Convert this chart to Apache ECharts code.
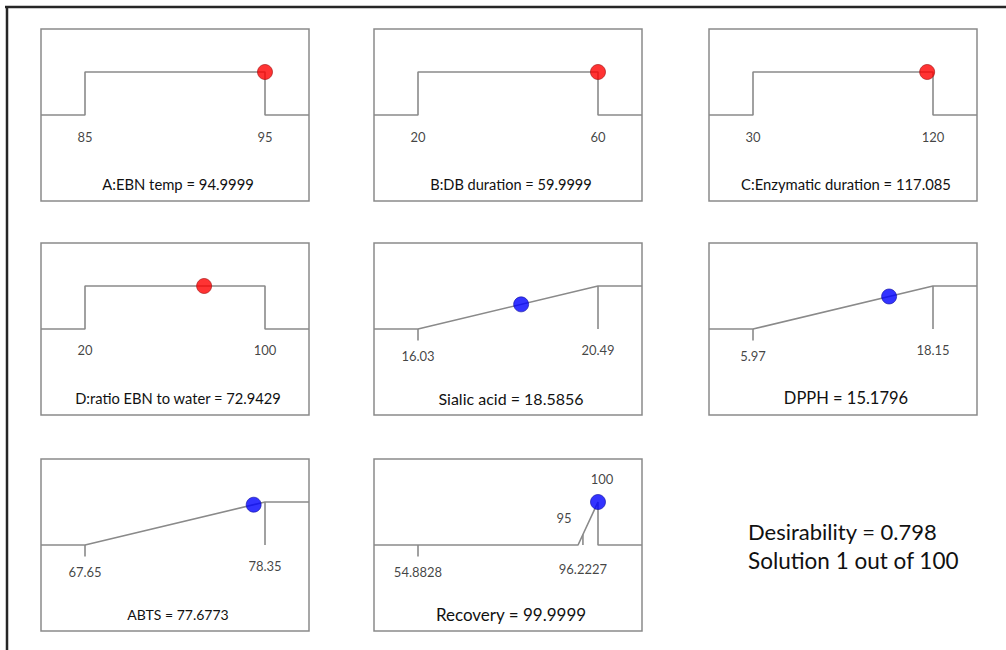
<!DOCTYPE html>
<html>
<head>
<meta charset="utf-8">
<script src="https://cdn.jsdelivr.net/npm/echarts@6/dist/echarts.min.js"></script>
<style>html,body{margin:0;padding:0;background:#fff;}#c{width:1006px;height:650px;}</style>
</head>
<body>
<div id="c"></div>
<script>
// ---- data ----
const panelNames = ['A:EBN temp', 'B:DB duration', 'C:Enzymatic duration', 'D:ratio EBN to water', 'Sialic acid', 'DPPH', 'ABTS', 'Recovery'];
const solutionValues = [94.9999, 59.9999, 117.085, 72.9429, 18.5856, 15.1796, 77.6773, 99.9999];
const solutionLabels = ['94.9999', '59.9999', '117.085', '72.9429', '18.5856', '15.1796', '77.6773', '99.9999'];
const goalTypes = ['in range', 'in range', 'in range', 'in range', 'maximize', 'maximize', 'maximize', 'target'];
const goalLow = [85, 20, 30, 20, 16.03, 5.97, 67.65, 95];
const goalHigh = [95, 60, 120, 100, 20.49, 18.15, 78.35, 100];
const rangeLow = [85, 20, 30, 20, 16.03, 5.97, 67.65, 54.8828];
const rangeHigh = [95, 60, 120, 100, 20.49, 18.15, 78.35, 96.2227];
const rangeLowLabels = ['85', '20', '30', '20', '16.03', '5.97', '67.65', '54.8828'];
const rangeHighLabels = ['95', '60', '120', '100', '20.49', '18.15', '78.35', '96.2227'];
const goalLowLabels = ['', '', '', '', '', '', '', '95'];
const goalHighLabels = ['', '', '', '', '', '', '', '100'];
const desirabilityText = 'Desirability = 0.798';
const solutionText = 'Solution 1 out of 100';

// ---- layout / style ----
const FONT = 'Lato';
const colLeft = [41, 374, 709];
const rowTop = [29, 243, 459];
const boxW = 268, boxH = 172;
const margin = 44 / 180;
const gray = '#8a8a8a';
const titleSizes = [14.8, 14.6, 14.8, 14.7, 16, 16.5, 14, 17];

function desir(i, v) {
  const lo = goalLow[i], hi = goalHigh[i];
  if (goalTypes[i] === 'in range') return (v >= lo && v <= hi) ? 1 : 0;
  if (goalTypes[i] === 'maximize') return Math.max(0, Math.min(1, (v - lo) / (hi - lo)));
  if (v < lo || v > hi) return 0;
  return (v - lo) / (hi - lo);
}

const grids = [], xAxes = [], yAxes = [], series = [], titles = [];
panelNames.forEach((name, i) => {
  const r = Math.floor(i / 3), c = i % 3;
  const left = colLeft[c], top = rowTop[r];
  grids.push({ left: left, top: top, width: boxW, height: boxH, show: true, borderColor: gray, borderWidth: 1.5, backgroundColor: '#fff' });
  const aLo = Math.min(rangeLow[i], goalLow[i]);
  const aHi = Math.max(rangeHigh[i], goalHigh[i]);
  const span = aHi - aLo;
  const xmin = aLo - margin * span, xmax = aHi + margin * span;
  xAxes.push({ gridIndex: i, type: 'value', min: xmin, max: xmax, show: false });
  yAxes.push({ gridIndex: i, type: 'value', min: -2, max: 2, show: false });
  const lineStyle = { color: gray, width: 1.6 };
  const base = { xAxisIndex: i, yAxisIndex: i, symbol: 'none', silent: true, animation: false, lineStyle: lineStyle, z: 2 };
  const lo = goalLow[i], hi = goalHigh[i];
  let pts;
  if (goalTypes[i] === 'in range') {
    pts = [[xmin, 0], [lo, 0], [lo, 1], [hi, 1], [hi, 0], [xmax, 0]];
  } else if (goalTypes[i] === 'maximize') {
    pts = [[xmin, 0], [lo, 0], [hi, 1], [xmax, 1]];
  } else {
    pts = [[xmin, 0], [lo, 0], [hi, 1], [hi, 0], [xmax, 0]];
  }
  series.push(Object.assign({ type: 'line', data: pts }, base));
  const lblStyle = { fontFamily: FONT, fontSize: 13, color: '#111' };
  const labels = [];
  if (goalTypes[i] !== 'in range') {
    series.push(Object.assign({ type: 'line', data: [[rangeLow[i], 0], [rangeLow[i], -0.27]] }, base));
    series.push(Object.assign({ type: 'line', data: [[rangeHigh[i], 0], [rangeHigh[i], desir(i, rangeHigh[i])]] }, base));
    labels.push({ value: [rangeLow[i], 0], name: rangeLowLabels[i], label: { offset: [0, 27] } });
    labels.push({ value: [rangeHigh[i], 0], name: rangeHighLabels[i], label: { offset: [0, goalTypes[i] === 'target' ? 24 : 21] } });
    if (goalLowLabels[i]) labels.push({ value: [goalLow[i], 0], name: goalLowLabels[i], label: { offset: [-14, -27] } });
    if (goalHighLabels[i]) labels.push({ value: [goalHigh[i], 1], name: goalHighLabels[i], label: { offset: [4, -23] } });
  } else {
    const off = r === 0 ? 22 : 21;
    labels.push({ value: [rangeLow[i], 0], name: rangeLowLabels[i], label: { offset: [0, off] } });
    labels.push({ value: [rangeHigh[i], 0], name: rangeHighLabels[i], label: { offset: [0, off] } });
  }
  series.push({
    type: 'scatter', xAxisIndex: i, yAxisIndex: i, symbolSize: 0, silent: true, animation: false,
    data: labels,
    label: Object.assign({ show: true, position: 'inside', formatter: p => p.name }, lblStyle)
  });
  const isFactor = goalTypes[i] === 'in range';
  series.push({
    type: 'scatter', xAxisIndex: i, yAxisIndex: i, symbolSize: 15, silent: true, animation: false, z: 5,
    itemStyle: { color: isFactor ? '#ff0000' : '#0000ff', borderColor: isFactor ? '#a01010' : '#1010a0', borderWidth: 0.8 },
    data: [[solutionValues[i], desir(i, solutionValues[i])]]
  });
  titles.push({
    text: name + ' = ' + solutionLabels[i],
    left: left + boxW / 2 + 3, top: top + 156 - titleSizes[i] / 2 - 1, textAlign: 'center', padding: 0,
    textStyle: { fontFamily: FONT, fontSize: titleSizes[i], fontWeight: 'normal', color: '#111' }
  });
});

const chart = echarts.init(document.getElementById('c'), null, { renderer: 'svg' });
chart.setOption({
  animation: false,
  backgroundColor: '#fff',
  title: titles,
  grid: grids,
  xAxis: xAxes,
  yAxis: yAxes,
  series: series,
  graphic: [
    { type: 'line', shape: { x1: 5, y1: 7, x2: 1006, y2: 7 }, style: { stroke: '#262626', lineWidth: 2.5 } },
    { type: 'line', shape: { x1: 7, y1: 6, x2: 7, y2: 650 }, style: { stroke: '#262626', lineWidth: 2.5 } },
    { type: 'text', left: 748, top: 520, style: { text: desirabilityText, font: '22px ' + FONT, fill: '#111' } },
    { type: 'text', left: 748, top: 549, style: { text: solutionText, font: '22.5px ' + FONT, fill: '#111' } }
  ]
});
</script>
</body>
</html>
